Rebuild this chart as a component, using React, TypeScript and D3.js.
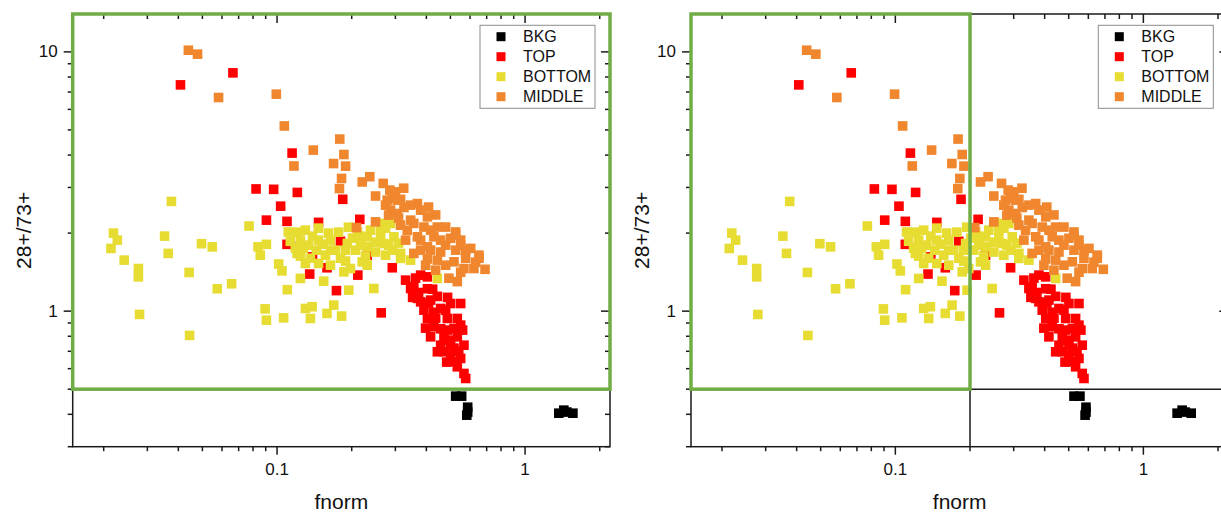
import React from 'react';
import * as d3 from 'd3';

type Pt = [number, number];

const BKG: Pt[] = [
  [0.525, 0.47], [0.555, 0.47], [0.587, 0.426], [0.587, 0.408], [0.582, 0.397],
  [1.368, 0.404], [1.433, 0.415], [1.474, 0.408], [1.559, 0.404],
];

const TOP: Pt[] = [
  [0.0408, 7.46], [0.0664, 8.3], [0.115, 4.07], [0.0823, 2.96], [0.0969, 2.95], [0.1207, 2.87],
  [0.1034, 2.54], [0.0906, 2.244], [0.1097, 2.22], [0.147, 2.2], [0.1097, 1.81], [0.1354, 1.39],
  [0.1736, 1.2], [0.2117, 1.377], [0.184, 2.7], [0.2156, 2.26], [0.231, 1.644], [0.263, 0.985],
  [0.2915, 1.47], [0.3792, 1.377], [0.4036, 1.356],
  [0.356, 1.24], [0.404, 1.22], [0.368, 1.12], [0.443, 1.14], [0.501, 1.07], [0.55, 1.07],
  [0.391, 1.009], [0.4567, 1.024], [0.404, 0.937], [0.486, 0.937], [0.533, 0.937], [0.429, 0.87],
  [0.517, 0.857], [0.416, 0.796], [0.471, 0.796], [0.533, 0.796], [0.567, 0.739], [0.4567, 0.739],
  [0.471, 0.697], [0.501, 0.6765], [0.55, 0.657], [0.533, 0.61], [0.567, 0.575], [0.5762, 0.55],
  [0.509, 0.638], [0.3455, 1.223], [0.3792, 1.086], [0.486, 0.845], [0.443, 0.697], [0.3298, 1.317],
  [0.3619, 1.341], [0.4161, 1.103], [0.4784, 1.009], [0.436, 0.94], [0.4567, 0.855], [0.492, 0.773],
  [0.517, 0.72], [0.55, 0.883],
  [0.372, 1.18], [0.424, 1.215], [0.408, 1.074], [0.487, 1.13], [0.428, 0.99], [0.397, 0.86],
  [0.501, 0.739], [0.483, 0.636], [0.54, 0.7], [0.56, 0.845], [0.352, 1.13],
  [0.1802, 1.86], [0.1242, 1.78], [0.139, 1.62], [0.159, 1.47],
];

const BOTTOM: Pt[] = [
  [0.0375, 2.65], [0.0219, 2.0], [0.0227, 1.879], [0.0214, 1.745], [0.0352, 1.947], [0.0364, 1.67],
  [0.0496, 1.82], [0.0548, 1.77], [0.0771, 2.13], [0.0838, 1.77], [0.0906, 1.81], [0.0856, 1.644],
  [0.0242, 1.573], [0.0276, 1.46], [0.0276, 1.356], [0.0442, 1.41], [0.0574, 1.22], [0.0656, 1.275],
  [0.0279, 0.971], [0.0444, 0.806], [0.0895, 1.02], [0.0906, 0.923], [0.1063, 0.942], [0.11, 1.21],
  [0.1015, 1.52], [0.1047, 1.43], [0.1242, 1.337], [0.1301, 1.024], [0.1385, 1.04], [0.1363, 0.937],
  [0.1204, 1.67], [0.1301, 1.527], [0.1542, 1.305], [0.1946, 1.205], [0.159, 0.98], [0.1693, 1.055],
  [0.182, 0.957], [0.147, 1.527], [0.1642, 1.504], [0.186, 1.417], [0.1977, 1.46], [0.2205, 1.549],
  [0.1642, 1.879], [0.192, 1.824], [0.2381, 2.053], [0.2614, 2.053], [0.2869, 2.178], [0.296, 1.935],
  [0.2695, 1.824], [0.231, 1.77], [0.3148, 1.67], [0.231, 1.935], [0.231, 1.504], [0.2456, 1.223],
  [0.443, 1.337], [0.3148, 1.597], [0.3455, 1.573],
  [0.1207, 2.017], [0.1301, 2.053], [0.139, 1.947], [0.1242, 1.879], [0.1185, 1.75], [0.1338, 1.797],
  [0.1441, 1.719], [0.1524, 1.813], [0.1242, 1.63], [0.1363, 1.6], [0.172, 1.719], [0.1802, 1.6],
  [0.2072, 1.719], [0.2014, 1.913], [0.217, 1.797], [0.1567, 1.644], [0.1888, 1.56], [0.177, 2.017],
  [0.211, 2.017], [0.194, 2.108], [0.2614, 1.913], [0.2816, 1.797], [0.2495, 1.69], [0.2738, 1.644],
  [0.2923, 1.719], [0.111, 2.02], [0.1131, 1.86], [0.309, 1.83], [0.2695, 2.18],
  [0.1277, 1.75], [0.1468, 1.879], [0.1642, 1.719], [0.1888, 1.719], [0.2273, 1.63], [0.2495, 1.845],
  [0.217, 1.947], [0.1468, 2.09], [0.161, 2.0], [0.2738, 2.09],
];

const MIDDLE: Pt[] = [
  [0.0439, 10.15], [0.0478, 9.8], [0.0581, 6.67], [0.0993, 6.87], [0.107, 5.18], [0.14, 4.18],
  [0.117, 3.63], [0.179, 4.61], [0.186, 4.02], [0.169, 3.71], [0.189, 3.625], [0.182, 3.25],
  [0.1785, 2.97], [0.2205, 3.15], [0.209, 2.1], [0.2365, 3.3], [0.268, 3.11], [0.285, 2.93],
  [0.2495, 2.78], [0.2738, 2.564], [0.305, 2.68], [0.325, 2.51], [0.368, 2.6], [0.305, 2.38],
  [0.404, 2.31], [0.3455, 2.244], [0.443, 2.11], [0.4784, 2.11], [0.335, 2.05], [0.391, 2.11],
  [0.368, 1.935], [0.429, 1.935], [0.501, 1.91], [0.55, 1.797], [0.6036, 1.746], [0.652, 1.644],
  [0.404, 1.77], [0.4567, 1.69], [0.356, 1.67], [0.2495, 2.21], [0.443, 1.573], [0.517, 1.55],
  [0.567, 1.46], [0.622, 1.46], [0.6895, 1.45], [0.493, 1.34], [0.533, 1.3], [0.652, 1.6], [0.404, 1.59],
  [0.3005, 2.885], [0.324, 2.98], [0.3148, 2.7], [0.356, 2.18], [0.55, 1.879], [0.278, 2.68],
  [0.3792, 1.879], [0.4161, 2.053], [0.4567, 1.879], [0.3298, 1.879], [0.408, 2.52], [0.3148, 2.146],
  [0.525, 1.719], [0.576, 1.6], [0.4784, 1.504], [0.4161, 1.719], [0.3972, 1.504], [0.4784, 1.797],
  [0.4359, 1.439], [0.2869, 2.453], [0.525, 2.02],
  [0.292, 2.73], [0.3455, 2.564], [0.3792, 2.453], [0.436, 2.35], [0.525, 1.964], [0.5762, 1.719],
  [0.632, 1.545], [0.3792, 1.719], [0.309, 2.285], [0.2816, 2.346], [0.55, 1.413],
];

const SERIES_NAMES = ['BKG', 'TOP', 'BOTTOM', 'MIDDLE'];
const SERIES_COLORS = ['#000000', '#FF0000', '#E6DC32', '#F0872E'];
const SERIES_DATA: Pt[][] = [BKG, TOP, BOTTOM, MIDDLE];

const X_DOMAIN: [number, number] = [0.015, 2.2];
const Y_DOMAIN: [number, number] = [0.3, 14];
const X_LABELED = [0.1, 1];
const Y_LABELED = [1, 10];
const X_TITLE = 'fnorm';
const Y_TITLE = '28+/73+';
const X_SPLIT = 0.2;
const Y_SPLIT = 0.5;

const FONT = '"Liberation Sans", Arial, Helvetica, sans-serif';
const GREEN = '#70AD47';
const AXIS = '#1a1a1a';

function logTicks(domain: [number, number]) {
  const out: { v: number; major: boolean }[] = [];
  const e0 = Math.floor(Math.log10(domain[0]));
  const e1 = Math.ceil(Math.log10(domain[1]));
  for (let e = e0; e <= e1; e++) {
    for (let m = 1; m <= 9; m++) {
      const v = +(m * Math.pow(10, e)).toPrecision(6);
      if (v >= domain[0] * 0.999 && v <= domain[1] * 1.001) out.push({ v, major: m === 1 });
    }
  }
  return out;
}

function Panel({ dx, split }: { dx: number; split: boolean }) {
  const x0 = 72.7 + dx;
  const x1 = 610 + dx;
  const yT = 14;
  const yB = 446.7;
  const x = d3.scaleLog().domain(X_DOMAIN).range([x0, x1]);
  const y = d3.scaleLog().domain(Y_DOMAIN).range([yB, yT]);
  const xt = logTicks(X_DOMAIN);
  const yt = logTicks(Y_DOMAIN);
  const MAJ = 9;
  const MIN = 5;
  const S = 9.6;
  const sx = x(X_SPLIT);
  const sy = y(Y_SPLIT);
  const legX = x1 - 130;
  const legY = 25.3;
  return (
    <g>
      <rect x={x0} y={yT} width={x1 - x0} height={yB - yT} fill="none" stroke={AXIS} strokeWidth={1.5} />
      {xt.map((t, i) => {
        const px = x(t.v);
        const L = t.major ? MAJ : MIN;
        return (
          <g key={'xt' + i}>
            <line x1={px} x2={px} y1={yB} y2={yB + (t.major ? 8 : 4.5)} stroke={AXIS} strokeWidth={1.5} />
            <line x1={px} x2={px} y1={yT} y2={yT + L} stroke={AXIS} strokeWidth={1.5} />
          </g>
        );
      })}
      {yt.map((t, i) => {
        const py = y(t.v);
        const L = t.major ? MAJ : MIN;
        return (
          <g key={'yt' + i}>
            <line x1={x0 - L} x2={x0} y1={py} y2={py} stroke={AXIS} strokeWidth={1.5} />
            <line x1={x1 - L} x2={x1} y1={py} y2={py} stroke={AXIS} strokeWidth={1.5} />
          </g>
        );
      })}
      {X_LABELED.map((v) => (
        <text key={'xl' + v} x={x(v)} y={475} textAnchor="middle" fontFamily={FONT} fontSize={17} fill="#111">
          {String(v)}
        </text>
      ))}
      {Y_LABELED.map((v) => (
        <text key={'yl' + v} x={x0 - MAJ - 6} y={y(v)} textAnchor="end" dominantBaseline="central" fontFamily={FONT} fontSize={17} fill="#111">
          {String(v)}
        </text>
      ))}
      <text x={(x0 + x1) / 2} y={509} textAnchor="middle" fontFamily={FONT} fontSize={21} fill="#111">
        {X_TITLE}
      </text>
      <text transform={`translate(${31 + dx},${(yT + yB) / 2}) rotate(-90)`} textAnchor="middle" fontFamily={FONT} fontSize={21} fill="#111">
        {Y_TITLE}
      </text>
      {SERIES_DATA.map((arr, si) => (
        <g key={'s' + si} fill={SERIES_COLORS[si]}>
          {arr.map((d, i) => (
            <rect key={i} x={x(d[0]) - S / 2} y={y(d[1]) - S / 2} width={S} height={S} />
          ))}
        </g>
      ))}
      <rect x={legX} y={legY} width={115} height={83} fill="#fff" stroke="#8c8c8c" strokeWidth={1} />
      {SERIES_NAMES.map((n, i) => (
        <g key={'lg' + i}>
          <rect x={legX + 16.5} y={legY + 11.4 + i * 20 - 4.5} width={9} height={9} fill={SERIES_COLORS[i]} />
          <text x={legX + 43} y={legY + 11.4 + i * 20} dominantBaseline="central" fontFamily={FONT} fontSize={16} fill="#111">
            {n}
          </text>
        </g>
      ))}
      {split ? (
        <g>
          <line x1={sx} x2={x1} y1={sy} y2={sy} stroke={AXIS} strokeWidth={1.5} />
          <line x1={sx} x2={sx} y1={sy} y2={yB} stroke={AXIS} strokeWidth={1.5} />
          <rect x={x0} y={yT} width={sx - x0} height={sy - yT} fill="none" stroke={GREEN} strokeWidth={3.5} />
        </g>
      ) : (
        <rect x={x0} y={yT} width={x1 - x0} height={sy - yT} fill="none" stroke={GREEN} strokeWidth={3.5} />
      )}
    </g>
  );
}

export default function App() {
  return (
    <svg
      width={1221}
      height={513}
      style={{ position: 'absolute', left: 0, top: 0, background: '#fff' }}
    >
      <rect x={0} y={0} width={1221} height={513} fill="#fff" />
      <Panel dx={0} split={false} />
      <Panel dx={618.3} split={true} />
    </svg>
  );
}
